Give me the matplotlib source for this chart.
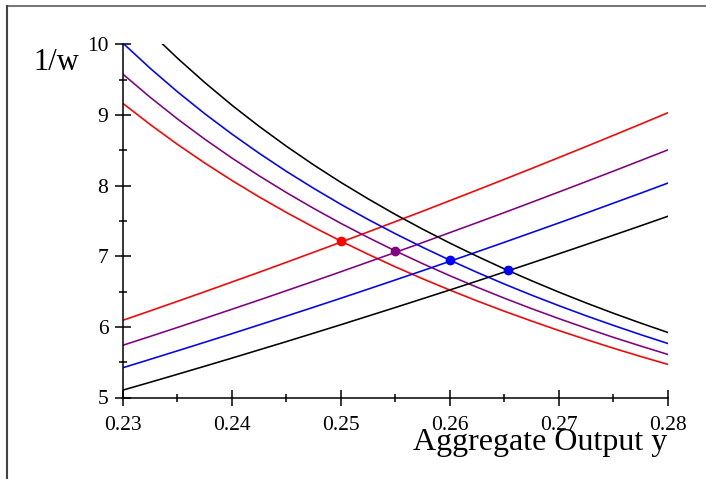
import matplotlib
matplotlib.use("Agg")
import matplotlib.pyplot as plt
from matplotlib.lines import Line2D

# aggregate output y (x axis), sampled every 0.0025
y_out = [0.23, 0.2325, 0.235, 0.2375, 0.24, 0.2425, 0.245, 0.2475, 0.25, 0.2525, 0.255,
         0.2575, 0.26, 0.2625, 0.265, 0.2675, 0.27, 0.2725, 0.275, 0.2775, 0.28]

# rising curves (1/w)
red_up = [6.094, 6.227, 6.362, 6.498, 6.636, 6.774, 6.915, 7.057, 7.200, 7.345, 7.491,
          7.638, 7.788, 7.938, 8.090, 8.243, 8.398, 8.554, 8.712, 8.871, 9.032]
purple_up = [5.740, 5.865, 5.992, 6.120, 6.250, 6.380, 6.513, 6.646, 6.781, 6.918, 7.055,
             7.194, 7.335, 7.476, 7.619, 7.764, 7.910, 8.057, 8.205, 8.355, 8.506]
blue_up = [5.422, 5.541, 5.661, 5.782, 5.904, 6.028, 6.153, 6.279, 6.406, 6.535, 6.665,
           6.796, 6.929, 7.063, 7.198, 7.335, 7.472, 7.611, 7.752, 7.893, 8.036]
black_up = [5.105, 5.216, 5.329, 5.443, 5.558, 5.675, 5.792, 5.911, 6.031, 6.153, 6.275,
            6.399, 6.523, 6.649, 6.777, 6.905, 7.035, 7.166, 7.298, 7.431, 7.566]

# falling curves (1/w)
red_down = [9.162, 8.863, 8.582, 8.319, 8.071, 7.838, 7.618, 7.410, 7.213, 7.026, 6.848,
            6.680, 6.519, 6.366, 6.220, 6.081, 5.947, 5.820, 5.697, 5.580, 5.468]
purple_down = [9.576, 9.249, 8.943, 8.657, 8.389, 8.137, 7.900, 7.676, 7.464, 7.264, 7.074,
               6.894, 6.723, 6.560, 6.405, 6.257, 6.116, 5.981, 5.851, 5.728, 5.609]
blue_down = [10.015, 9.659, 9.327, 9.017, 8.728, 8.456, 8.200, 7.960, 7.733, 7.519, 7.317,
             7.125, 6.943, 6.770, 6.605, 6.448, 6.299, 6.156, 6.020, 5.889, 5.764]
black_down = [10.574, 10.17, 9.803, 9.459, 9.137, 8.837, 8.556, 8.292, 8.044, 7.811, 7.590,
              7.382, 7.185, 6.998, 6.820, 6.652, 6.491, 6.338, 6.192, 6.053, 5.920]

# equilibrium points
eq_y = [0.25, 0.255, 0.26, 0.2653]
eq_w = [7.22, 7.08, 6.94, 6.80]
eq_col = ["#ff0000", "#800080", "#0000ff", "#0000ff"]

W, H = 706, 479

plt.rcParams["font.family"] = ["Liberation Serif", "DejaVu Serif"]

fig = plt.figure(figsize=(W / 100, H / 100), dpi=100)
ax = fig.add_axes([123 / W, 1 - 397.5 / H, 545 / W, 353.2 / H])

pairs = [(red_up, red_down, "#ff0000"),
         (purple_up, purple_down, "#800080"),
         (blue_up, blue_down, "#0000ff"),
         (black_up, black_down, "#000000")]
for up, down, c in pairs:
    ax.plot(y_out, up, color=c, lw=1.15)
    ax.plot(y_out, down, color=c, lw=1.15)

for yy, ww, c in zip(eq_y, eq_w, eq_col):
    ax.plot(yy, ww, "o", color=c, ms=6, zorder=5)

ax.set_xlim(0.23, 0.28)
ax.set_ylim(5, 10)
ax.spines["top"].set_visible(False)
ax.spines["right"].set_visible(False)
ax.spines["left"].set_linewidth(1.1)
ax.spines["bottom"].set_linewidth(1.1)

ax.set_xticks([0.23, 0.24, 0.25, 0.26, 0.27, 0.28])
ax.set_xticklabels(["0.23", "0.24", "0.25", "0.26", "0.27", "0.28"])
ax.set_xticks([0.235, 0.245, 0.255, 0.265, 0.275], minor=True)
ax.set_yticks([5, 6, 7, 8, 9, 10])
ax.set_yticks([5.5, 6.5, 7.5, 8.5, 9.5], minor=True)

ax.tick_params(which="major", direction="inout", length=11, width=1.1, labelsize=15.5)
ax.tick_params(which="minor", direction="inout", length=6, width=1.1)
ax.tick_params(axis="x", which="major", pad=8)
ax.tick_params(axis="y", which="major", pad=5)

fig.text(33 / W, 1 - 63 / H, "1/w", fontsize=22, va="center", ha="left")
fig.text(667 / W, 1 - 450 / H, "Aggregate Output y", fontsize=23, va="baseline", ha="right")

# window frame (top and left edges)
fig.add_artist(Line2D([7 / W, 1], [1 - 6 / H, 1 - 6 / H], color="#777777", lw=1.5,
                      transform=fig.transFigure))
fig.add_artist(Line2D([7 / W, 7 / W], [0, 1 - 6 / H], color="#444444", lw=1.5,
                      transform=fig.transFigure))

fig.savefig("out.png", dpi=100)
